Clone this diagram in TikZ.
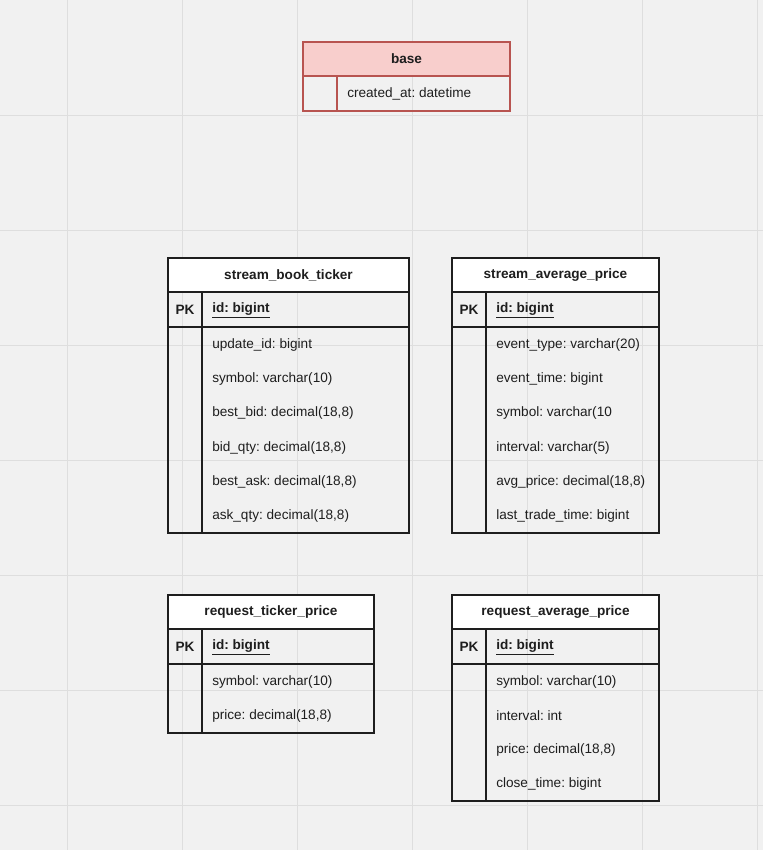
\documentclass[tikz,border=0pt]{standalone}
\usepackage{fontspec}
\setmainfont{Liberation Sans}
\frenchspacing
\definecolor{canvas}{RGB}{241,241,241}
\definecolor{gridc}{RGB}{222,222,222}
\definecolor{basefill}{RGB}{248,206,204}
\definecolor{basedraw}{RGB}{184,84,80}
\definecolor{inkc}{RGB}{30,30,30}

\begin{document}
\begin{tikzpicture} [x=0.75pt, y=-0.75pt, %
  tbl/.style={draw=inkc, line width=0.8pt}, %
  sep/.style={draw=inkc, line width=1.5pt}, %
  tbltitle/.style={font=\fontsize{10.2}{12}\selectfont\bfseries, text=inkc, inner sep=0pt}, %
  keytxt/.style={font=\fontsize{10.2}{12}\selectfont\bfseries, text=inkc, inner sep=0pt}, %
  pktxt/.style={font=\fontsize{10.2}{12}\selectfont\bfseries, text=inkc, anchor=west, inner sep=0pt}, %
  fldtxt/.style={font=\fontsize{10.2}{12}\selectfont, text=inkc, anchor=west, inner sep=0pt}] %
\useasboundingbox (0,0) rectangle (763,850); %
\fill [canvas] (0,0) rectangle (763,850); %
\foreach \gx in {67,182,297,412,527,642,757} \draw[gridc, line width=0.75pt] (\gx,0) -- (\gx,850); %
\foreach \gy in {115,230,345,460,575,690,805} \draw[gridc, line width=0.75pt] (0,\gy) -- (763,\gy); %
 %
% base
\draw [tbl, draw=basedraw, fill=basefill] (303,42) rectangle (510,76); %
\draw [tbl, draw=basedraw] (303,76) rectangle (510,111); %
\draw [tbl, draw=basedraw] (337,76) -- (337,111); %
\node [tbltitle] (base) at (406.5,59) {base}; %
\node [fldtxt] (base-1) at (347,94) {created\_at: datetime}; %
 %
% stream_book_ticker
\draw [tbl, fill=white] (168,258) rectangle (409,292); %
\draw [tbl] (168,292) rectangle (409,533); %
\draw [tbl] (202,292) -- (202,533); %
\draw [sep] (168,327) -- (409,327); %
\node [tbltitle] (sbt) at (288.5,275) {stream\_book\_ticker}; %
\node [keytxt] (sbt-pk) at (185,309.5) {PK}; %
\node [pktxt] (sbt-id) at (212,310) {\underline{id: bigint}}; %
\foreach \f [count=\i] in {update\_id: bigint, symbol: varchar(10), {best\_bid: decimal(18,8)}, %
  {bid\_qty: decimal(18,8)}, {best\_ask: decimal(18,8)}, {ask\_qty: decimal(18,8)}} %
  \node [fldtxt] (sbt-\i) at (212,{327.5+34.3*\i-17.15}) {\f}; %
 %
% stream_average_price
\draw [tbl, fill=white] (452,258) rectangle (659,292); %
\draw [tbl] (452,292) rectangle (659,533); %
\draw [tbl] (486,292) -- (486,533); %
\draw [sep] (452,327) -- (659,327); %
\node [tbltitle] (sap) at (555.5,275) {stream\_average\_price}; %
\node [keytxt] (sap-pk) at (469,309.5) {PK}; %
\node [pktxt] (sap-id) at (496,310) {\underline{id: bigint}}; %
\foreach \f [count=\i] in {event\_type: varchar(20), event\_time: bigint, symbol: varchar(10, %
  interval: varchar(5), {avg\_price: decimal(18,8)}, last\_trade\_time: bigint} %
  \node [fldtxt] (sap-\i) at (496,{327.5+34.3*\i-17.15}) {\f}; %
 %
% request_ticker_price
\draw [tbl, fill=white] (168,595) rectangle (374,629); %
\draw [tbl] (168,629) rectangle (374,733); %
\draw [tbl] (202,629) -- (202,733); %
\draw [sep] (168,664) -- (374,664); %
\node [tbltitle] (rtp) at (271,612) {request\_ticker\_price}; %
\node [keytxt] (rtp-pk) at (185,646.5) {PK}; %
\node [pktxt] (rtp-id) at (212,647) {\underline{id: bigint}}; %
\foreach \f [count=\i] in {symbol: varchar(10), {price: decimal(18,8)}} %
  \node [fldtxt] (rtp-\i) at (212,{664.5+34.5*\i-17.25}) {\f}; %
 %
% request_average_price
\draw [tbl, fill=white] (452,595) rectangle (659,629); %
\draw [tbl] (452,629) rectangle (659,801); %
\draw [tbl] (486,629) -- (486,801); %
\draw [sep] (452,664) -- (659,664); %
\node [tbltitle] (rap) at (555.5,612) {request\_average\_price}; %
\node [keytxt] (rap-pk) at (469,646.5) {PK}; %
\node [pktxt] (rap-id) at (496,647) {\underline{id: bigint}}; %
\foreach \f [count=\i] in {symbol: varchar(10), interval: int, {price: decimal(18,8)}, close\_time: bigint} %
  \node [fldtxt] (rap-\i) at (496,{664.5+34.25*\i-17.12}) {\f}; %
\end{tikzpicture}
\end{document}
